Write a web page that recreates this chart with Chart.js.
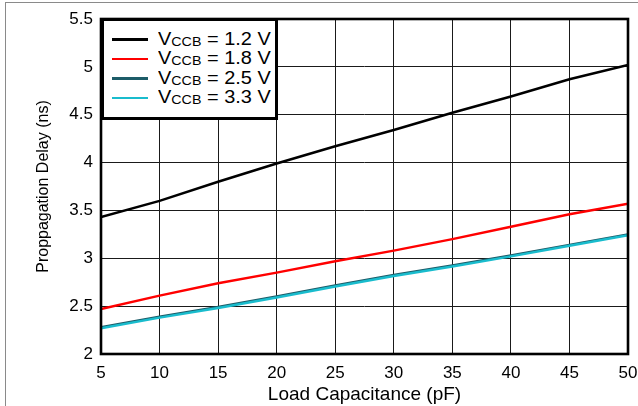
<!DOCTYPE html>
<html>
<head>
<meta charset="utf-8">
<script src="https://cdn.jsdelivr.net/npm/chart.js@4.4.1/dist/chart.umd.min.js"></script>
<style>
  html, body { margin: 0; padding: 0; width: 638px; height: 406px; overflow: hidden; background: #fff; }
  #frame { position: absolute; left: 5px; top: 2px; width: 700px; height: 500px; border: 1px solid #8a8a8a; }
  #wrap { position: absolute; left: 0; top: 0; width: 638px; height: 406px; }
  canvas { position: absolute; left: 0; top: 0; }
  #legend { position: absolute; left: 101px; top: 18px; width: 177px; height: 102px; box-sizing: border-box;
            border: 3px solid #000; background: #fff; font-family: "Liberation Sans", Arial, sans-serif; color: #000; }
  .lg-line { position: absolute; width: 36px; height: 2.5px; }
  .lg-text { position: absolute; font-size: 17.5px; line-height: 17.5px; white-space: nowrap;
             transform: scaleX(1.14); transform-origin: left center; }
  .lg-text .sub { font-size: 12.5px; position: relative; top: 1px; }
</style>
</head>
<body>
<div id="frame"></div>
<div id="wrap">
  <canvas id="c" width="638" height="406"></canvas>
  <div id="legend"></div>
</div>
<script>
// ---- data ----
const capacitance = [5, 10, 15, 20, 25, 30, 35, 40, 45, 50];
const vccb12 = [3.43, 3.60, 3.80, 3.99, 4.17, 4.34, 4.52, 4.69, 4.87, 5.02];
const vccb18 = [2.47, 2.61, 2.74, 2.85, 2.97, 3.08, 3.20, 3.33, 3.46, 3.57];
const vccb25 = [2.28, 2.39, 2.49, 2.60, 2.715, 2.825, 2.925, 3.03, 3.14, 3.25];
const vccb33 = [2.27, 2.38, 2.48, 2.59, 2.705, 2.815, 2.915, 3.02, 3.13, 3.24];
const seriesSub = ['CCB', 'CCB', 'CCB', 'CCB'];
const seriesVolts = ['1.2 V', '1.8 V', '2.5 V', '3.3 V'];
const xTickLabels = ['5', '10', '15', '20', '25', '30', '35', '40', '45', '50'];
const yTickLabels = ['2', '2.5', '3', '3.5', '4', '4.5', '5', '5.5'];
const xTitle = 'Load Capacitance (pF)';
const yTitle = 'Proppagation Delay (ns)';

const colors = ['#000000', '#ff0000', '#1d5c68', '#19bccd'];
const seriesValues = [vccb12, vccb18, vccb25, vccb33];

const datasets = seriesValues.map((vals, i) => ({
  label: 'V' + seriesSub[i] + ' = ' + seriesVolts[i],
  data: capacitance.map((x, j) => ({ x: x, y: vals[j] })),
  borderColor: colors[i],
  backgroundColor: colors[i],
  borderWidth: 2.5,
  pointRadius: 0,
  tension: 0,
  fill: false,
  order: seriesValues.length - i
}));

const frameBorder = {
  id: 'frameBorder',
  afterDatasetsDraw(chart) {
    const a = chart.chartArea, ctx = chart.ctx;
    ctx.save();
    ctx.strokeStyle = '#000';
    ctx.lineWidth = 2.6;
    ctx.strokeRect(a.left, a.top, a.right - a.left, a.bottom - a.top);
    ctx.restore();
  }
};

const fontMain = { family: '"Liberation Sans", Arial, sans-serif', size: 17 };

new Chart(document.getElementById('c'), {
  type: 'line',
  data: { datasets: datasets },
  plugins: [frameBorder],
  options: {
    responsive: false,
    animation: false,
    events: [],
    layout: { padding: { left: 0, right: 10, top: 19, bottom: 0 } },
    plugins: { legend: { display: false }, tooltip: { enabled: false } },
    scales: {
      x: {
        type: 'linear', min: 5, max: 50,
        afterBuildTicks(s) { s.ticks = xTickLabels.map(v => ({ value: Number(v) })); },
        afterFit(s) { s.height = 52; s.paddingRight = 0; s.paddingLeft = 0; },
        ticks: {
          color: '#000', font: fontMain, padding: 9, maxRotation: 0, autoSkip: false,
          callback: (v, i) => xTickLabels[i]
        },
        grid: { color: '#1a1a1a', lineWidth: 1, drawTicks: false },
        border: { display: false },
        title: { display: true, text: xTitle, color: '#000',
                 font: { family: '"Liberation Sans", Arial, sans-serif', size: 19 },
                 padding: { top: 0, bottom: 0 } }
      },
      y: {
        type: 'linear', min: 2, max: 5.5,
        afterBuildTicks(s) { s.ticks = yTickLabels.map(v => ({ value: Number(v) })); },
        afterFit(s) { s.width = 101; s.paddingTop = 0; s.paddingBottom = 0; },
        ticks: {
          color: '#000', font: fontMain, padding: 8, autoSkip: false,
          callback: (v, i) => yTickLabels[i]
        },
        grid: { color: '#1a1a1a', lineWidth: 1, drawTicks: false },
        border: { display: false },
        title: { display: true, text: yTitle, color: '#000',
                 font: { family: '"Liberation Sans", Arial, sans-serif', size: 16 },
                 padding: { top: 34, bottom: 0 } }
      }
    }
  }
});

// HTML legend (allows subscript text)
const legend = document.getElementById('legend');
const rowCenters = [39.3, 58.9, 78.4, 98.0];
seriesValues.forEach((_, i) => {
  const cy = rowCenters[i] - 18 - 3; // relative to legend padding box
  const ln = document.createElement('div');
  ln.className = 'lg-line';
  ln.style.background = colors[i];
  ln.style.left = (112 - 101 - 3) + 'px';
  ln.style.top = (cy - 1.25) + 'px';
  legend.appendChild(ln);
  const tx = document.createElement('div');
  tx.className = 'lg-text';
  tx.style.left = (158 - 101 - 3) + 'px';
  tx.style.top = (cy - 8.75) + 'px';
  tx.innerHTML = 'V<span class="sub">' + seriesSub[i] + '</span> = ' + seriesVolts[i];
  legend.appendChild(tx);
});
</script>
</body>
</html>
